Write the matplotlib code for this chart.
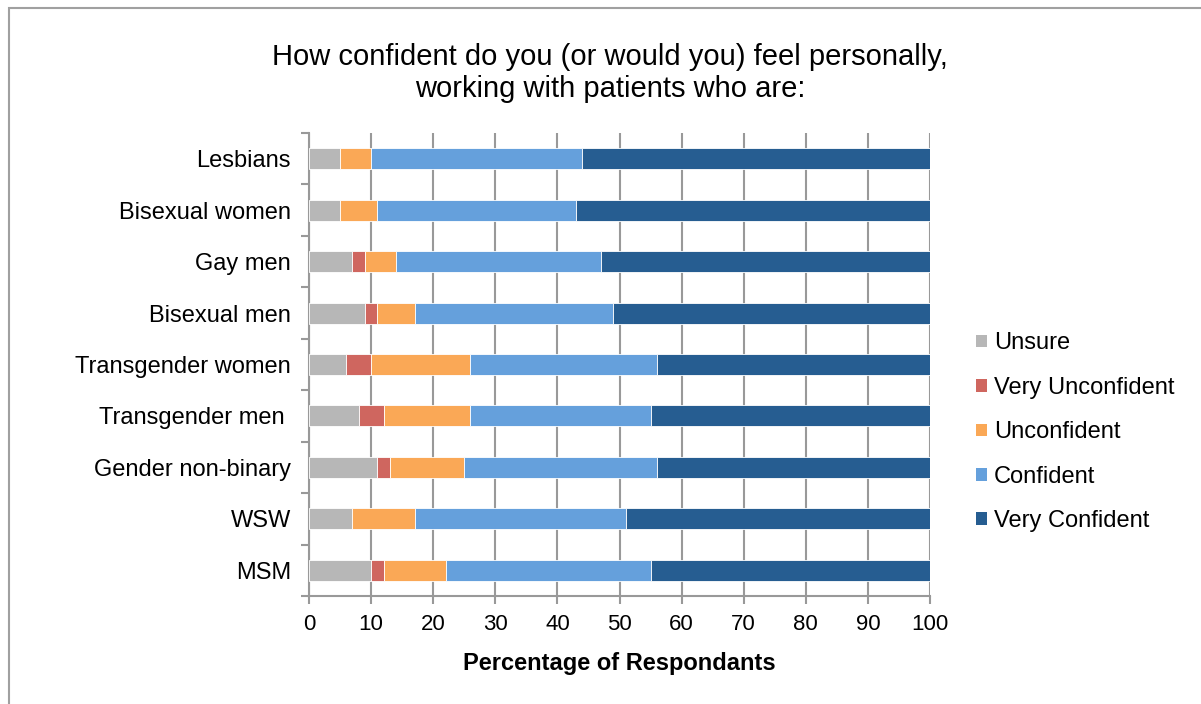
import numpy as np
import matplotlib
matplotlib.use("Agg")
import matplotlib.pyplot as plt
from matplotlib.patches import Rectangle, Patch

plt.rcParams['font.family'] = ['Liberation Sans', 'DejaVu Sans']

grupos = ["Lesbians", "Bisexual women", "Gay men", "Bisexual men",
          "Transgender women", "Transgender men ", "Gender non-binary",
          "WSW", "MSM"]

series = ["Unsure", "Very Unconfident", "Unconfident", "Confident", "Very Confident"]

unsure = [5, 5, 7, 9, 6, 8, 11, 7, 10]
very_unconf = [0, 0, 2, 2, 4, 4, 2, 0, 2]
unconf = [5, 6, 5, 6, 16, 14, 12, 10, 10]
conf = [34, 32, 33, 32, 30, 29, 31, 34, 33]
very_conf = [56.3, 57, 53, 51, 44.3, 45, 44, 49, 45.3]

cores = ["#b7b7b7", "#cf665f", "#faa856", "#65a0dc", "#265d91"]

fig = plt.figure(figsize=(12.01, 7.04), dpi=100)
ax = fig.add_axes([309/1201, 1 - 596/704, (930-309)/1201, (596-133)/704])

# moldura externa
fig.patches.append(Rectangle((9/1201, -0.1), 1.2, 1.1 - 8/704,
                             transform=fig.transFigure, fill=False,
                             edgecolor="#a0a0a0", linewidth=1.5))

y = np.arange(len(grupos))
esquerda = np.zeros(len(grupos))
for valores, nome, cor in zip([unsure, very_unconf, unconf, conf, very_conf], series, cores):
    ax.barh(y, valores, left=esquerda, height=0.41, color=cor, label=nome,
            edgecolor="white", linewidth=0.6, zorder=3)
    esquerda = esquerda + np.array(valores)

ax.set_ylim(len(grupos) - 0.5, -0.5)
ax.set_xlim(0, 100)
ax.set_xticks(np.arange(0, 101, 10))
ax.set_yticks(y)
ax.set_yticklabels(grupos, fontsize=17)
ax.set_yticks(np.arange(-0.5, len(grupos), 1), minor=True)
ax.tick_params(axis="y", which="major", length=0, pad=13)
ax.tick_params(axis="y", which="minor", length=6, color="#999999", width=1.5, direction="out")
ax.tick_params(axis="x", length=6, color="#999999", width=1.5, labelsize=16, pad=7)

ax.grid(True, axis="x", color="#999999", linewidth=1.5, zorder=0)
for lado in ["top", "right"]:
    ax.spines[lado].set_visible(False)
for lado in ["left", "bottom"]:
    ax.spines[lado].set_color("#999999")
    ax.spines[lado].set_linewidth(1.5)

ax.set_xlabel("Percentage of Respondants", fontsize=17, fontweight="bold", labelpad=12)

fig.text(610/1201, 1 - 73/704,
         "How confident do you (or would you) feel personally,\nworking with patients who are:",
         ha="center", va="center", fontsize=21, linespacing=1.15)

handles = [Patch(facecolor=c, edgecolor="none", label=s) for s, c in zip(series, cores)]
fig.legend(handles=handles, loc="upper left", bbox_to_anchor=(967/1201, 1 - 323/704),
           frameon=False, fontsize=17, handlelength=0.45, handleheight=0.45,
           handletextpad=0.3, labelspacing=0.95, borderaxespad=0)

fig.savefig("out.png", dpi=100)
